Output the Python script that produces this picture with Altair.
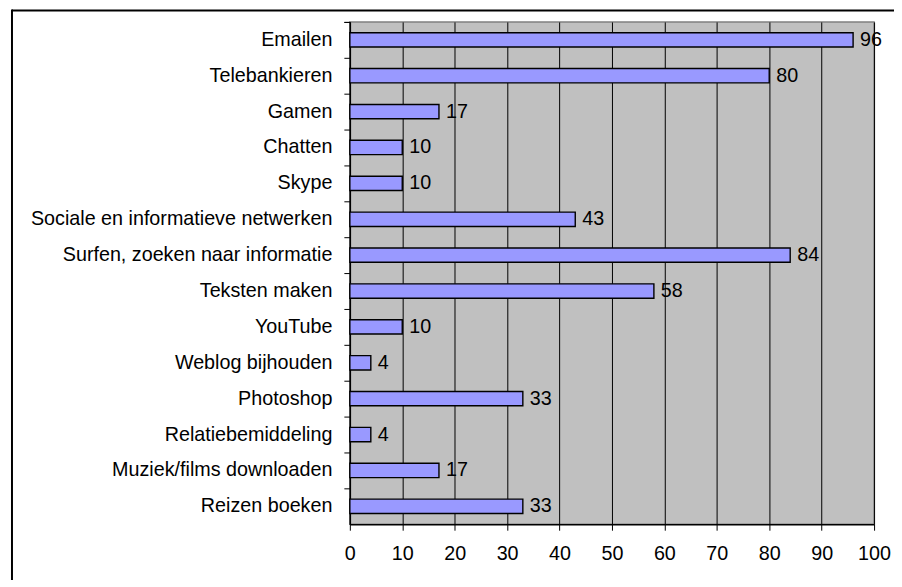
import altair as alt
import pandas as pd

categories = [
    "Emailen", "Telebankieren", "Gamen", "Chatten", "Skype",
    "Sociale en informatieve netwerken", "Surfen, zoeken naar informatie",
    "Teksten maken", "YouTube", "Weblog bijhouden", "Photoshop",
    "Relatiebemiddeling", "Muziek/films downloaden", "Reizen boeken",
]
values = [96, 80, 17, 10, 10, 43, 84, 58, 10, 4, 33, 4, 17, 33]
x_ticks = [0, 10, 20, 30, 40, 50, 60, 70, 80, 90, 100]

df = pd.DataFrame({"cat": categories, "val": values})

FONT = "Liberation Sans"
FS = 19.8
W, H = 526, 504

y_enc = alt.Y(
    "cat:N", sort=categories, title=None,
    scale=alt.Scale(paddingInner=0, paddingOuter=0),
    axis=alt.Axis(
        bandPosition=0, tickExtra=True, tickSize=6, tickColor="black",
        domainColor="black", domainWidth=1.5, labelPadding=12, labelLimit=0,
        labelFontSize=FS, labelFont=FONT, labelColor="black", grid=False,
    ),
)
x_enc = alt.X(
    "val:Q", title=None,
    scale=alt.Scale(domain=[0, 100], nice=False),
    axis=alt.Axis(
        values=x_ticks, tickSize=6, tickColor="black", domainColor="black",
        domainWidth=1.5, labelPadding=13, labelFontSize=FS, labelFont=FONT,
        labelColor="black", grid=True, gridColor="black", gridWidth=1,
        gridOpacity=1, labelFlush=False,
    ),
)

bars = alt.Chart(df).mark_bar(
    height=alt.RelativeBandSize(0.4), color="#9999FF", stroke="black", strokeWidth=1.4
).encode(x=x_enc, y=y_enc)

labels = alt.Chart(df).mark_text(
    align="left", baseline="middle", dx=7, fontSize=FS, font=FONT, color="black"
).encode(x="val:Q", y=alt.Y("cat:N", sort=categories), text="val:Q")

frame_data = alt.Data(values=[{"a": 1}])
top_line = alt.Chart(frame_data).mark_rule(color="black", strokeWidth=2).encode(
    x=alt.value(-339), x2=alt.value(W + 30), y=alt.value(-11.5)
)
left_line = alt.Chart(frame_data).mark_rule(color="black", strokeWidth=2).encode(
    x=alt.value(-339), y=alt.value(-12.5), y2=alt.value(H + 70)
)

chart = alt.layer(bars, labels, top_line, left_line).properties(
    width=W, height=H,
    autosize=alt.AutoSizeParams(type="none"),
    padding={"left": 343, "top": 13, "right": 20, "bottom": 55},
    view=alt.ViewBackground(fill="#C0C0C0", stroke="#808080", strokeWidth=1.5),
).configure(background="white")

chart.save("out.html", embed_options={"renderer": "svg", "actions": False})
